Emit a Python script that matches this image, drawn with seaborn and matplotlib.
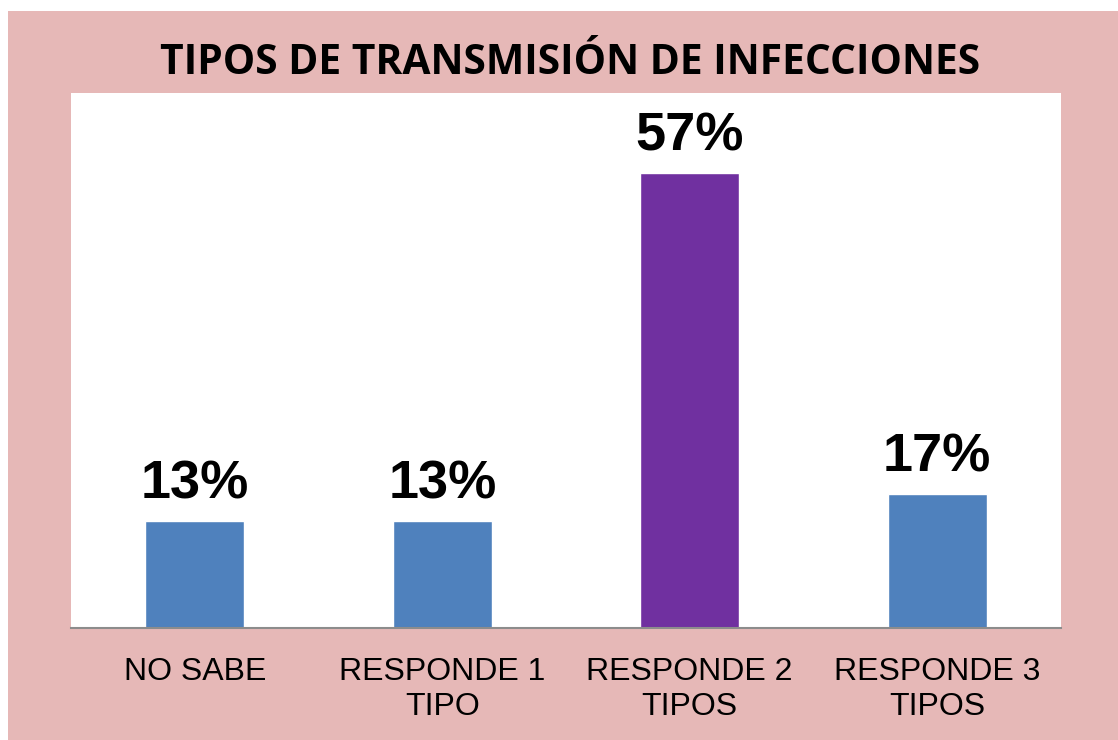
import matplotlib
matplotlib.use("Agg")
import matplotlib.pyplot as plt
import seaborn as sns
import pandas as pd
from matplotlib.patches import Rectangle

categories = ["NO SABE", "RESPONDE 1\nTIPO", "RESPONDE 2\nTIPOS", "RESPONDE 3\nTIPOS"]
values = [13.33, 13.33, 56.67, 16.67]
labels = ["13%", "13%", "57%", "17%"]
colors = ["#4F81BD", "#4F81BD", "#7030A0", "#4F81BD"]
title = "TIPOS DE TRANSMISIÓN DE INFECCIONES"

sns.set_style("white")
plt.rcParams['font.family'] = ['Liberation Sans', 'DejaVu Sans']
plt.rcParams['text.color'] = 'black'
plt.rcParams['xtick.color'] = 'black'

W, H = 1118, 740
fig = plt.figure(figsize=(W / 100, H / 100), dpi=100)
fig.patch.set_facecolor("white")
fig.patches.append(Rectangle((8 / W, 0), 1 - 8 / W, 1 - 11 / H, transform=fig.transFigure,
                             facecolor="#E6B8B7", edgecolor="none", zorder=-10))

ax = fig.add_axes([71 / W, 1 - 628 / H, (1061 - 71) / W, (628 - 93) / H])
ax.set_facecolor("white")

df = pd.DataFrame({"cat": categories, "val": values})
sns.barplot(data=df, x="cat", y="val", hue="cat", palette=colors, legend=False,
            width=0.4, ax=ax, saturation=1)

ax.set_xlim(-0.5, 3.5)
ax.set_ylim(0, 66.6)
ax.set_yticks([])
ax.set_xlabel("")
ax.set_ylabel("")
for s in ["top", "left", "right"]:
    ax.spines[s].set_visible(False)
ax.spines["bottom"].set_color("#8C8C8C")
ax.spines["bottom"].set_linewidth(1.5)
ax.tick_params(axis="x", length=0, pad=21, colors="black")
for t in ax.get_xticklabels():
    t.set_fontsize(23)
    t.set_linespacing(1.2)
    t.set_color("black")

for p, lab in zip(ax.patches, labels):
    ax.annotate(lab, (p.get_x() + p.get_width() / 2, p.get_height()),
                xytext=(0, 8), textcoords="offset points", ha="center", va="bottom",
                fontsize=39, fontweight="bold", color="black")

fig.text(570 / W, 1 - 64 / H, title, ha="center", va="center", fontsize=29.3,
         fontweight="bold", color="black", family=["Open Sans", "DejaVu Sans"])

fig.savefig("out.png", dpi=100)
